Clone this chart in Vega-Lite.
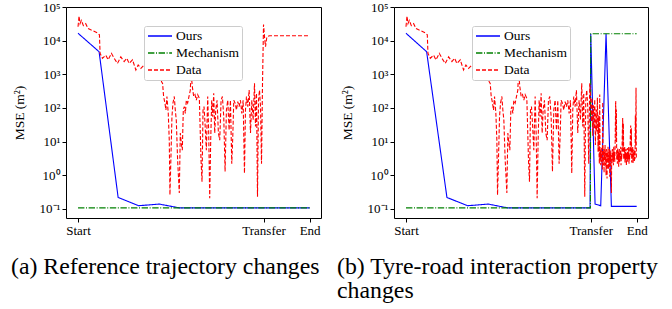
{
  "$schema": "https://vega.github.io/schema/vega-lite/v6.json",
  "padding": {"left": 10, "top": 0, "right": 2, "bottom": 2},
  "datasets": {
    "a": [
      {"x":0,"y":16600,"s":"Ours"},{"x":63,"y":4700,"s":"Ours"},{"x":120,"y":0.22,"s":"Ours"},{"x":181,"y":0.125,"s":"Ours"},{"x":243,"y":0.14,"s":"Ours"},{"x":303,"y":0.108,"s":"Ours"},{"x":693,"y":0.108,"s":"Ours"},
      {"x":0,"y":0.108,"s":"Mechanism"},{"x":693,"y":0.108,"s":"Mechanism"},
      {"x":0,"y":26000,"s":"Data"},{"x":3,"y":54000,"s":"Data"},{"x":6,"y":32000,"s":"Data"},{"x":10,"y":40000,"s":"Data"},{"x":16,"y":28000,"s":"Data"},{"x":23,"y":32000,"s":"Data"},{"x":30,"y":23000,"s":"Data"},{"x":38,"y":21000,"s":"Data"},{"x":48,"y":19000,"s":"Data"},{"x":58,"y":17000,"s":"Data"},{"x":64,"y":15000,"s":"Data"},{"x":66,"y":4200,"s":"Data"},{"x":73,"y":3000,"s":"Data"},{"x":83,"y":3700,"s":"Data"},{"x":90,"y":2700,"s":"Data"},{"x":100,"y":4200,"s":"Data"},{"x":108,"y":3000,"s":"Data"},{"x":118,"y":2100,"s":"Data"},{"x":128,"y":3300,"s":"Data"},{"x":138,"y":2400,"s":"Data"},{"x":146,"y":3000,"s":"Data"},{"x":153,"y":2100,"s":"Data"},{"x":163,"y":2700,"s":"Data"},{"x":173,"y":1350,"s":"Data"},{"x":180,"y":1900,"s":"Data"},{"x":188,"y":1500,"s":"Data"},{"x":198,"y":1900,"s":"Data"},{"x":208,"y":1500,"s":"Data"},{"x":218,"y":1200,"s":"Data"},{"x":228,"y":1200,"s":"Data"},{"x":238,"y":1070,"s":"Data"},{"x":246,"y":850,"s":"Data"},{"x":250,"y":600,"s":"Data"},{"x":253,"y":540,"s":"Data"},{"x":256,"y":220,"s":"Data"},{"x":260,"y":140,"s":"Data"},{"x":263,"y":87,"s":"Data"},{"x":266,"y":220,"s":"Data"},{"x":270,"y":69,"s":"Data"},{"x":273,"y":11,"s":"Data"},{"x":275,"y":0.26,"s":"Data"},{"x":278,"y":3.5,"s":"Data"},{"x":281,"y":55,"s":"Data"},{"x":284,"y":140,"s":"Data"},{"x":288,"y":220,"s":"Data"},{"x":291,"y":87,"s":"Data"},{"x":294,"y":44,"s":"Data"},{"x":298,"y":2.8,"s":"Data"},{"x":303,"y":0.3,"s":"Data"},{"x":306,"y":18,"s":"Data"},{"x":309,"y":9,"s":"Data"},{"x":312,"y":5.6,"s":"Data"},{"x":315,"y":87,"s":"Data"},{"x":318,"y":110,"s":"Data"},{"x":321,"y":69,"s":"Data"},{"x":324,"y":170,"s":"Data"},{"x":328,"y":140,"s":"Data"},{"x":332,"y":220,"s":"Data"},{"x":336,"y":340,"s":"Data"},{"x":338,"y":1200,"s":"Data"},{"x":342,"y":430,"s":"Data"},{"x":346,"y":220,"s":"Data"},{"x":350,"y":250,"s":"Data"},{"x":354,"y":170,"s":"Data"},{"x":358,"y":250,"s":"Data"},{"x":363,"y":195,"s":"Data"},{"x":368,"y":2.8,"s":"Data"},{"x":371,"y":0.65,"s":"Data"},{"x":374,"y":87,"s":"Data"},{"x":377,"y":110,"s":"Data"},{"x":380,"y":35,"s":"Data"},{"x":384,"y":5.6,"s":"Data"},{"x":388,"y":220,"s":"Data"},{"x":391,"y":18,"s":"Data"},{"x":394,"y":0.21,"s":"Data"},{"x":397,"y":11,"s":"Data"},{"x":400,"y":170,"s":"Data"},{"x":403,"y":55,"s":"Data"},{"x":406,"y":275,"s":"Data"},{"x":409,"y":18,"s":"Data"},{"x":412,"y":87,"s":"Data"},{"x":416,"y":170,"s":"Data"},{"x":420,"y":18,"s":"Data"},{"x":424,"y":11,"s":"Data"},{"x":428,"y":170,"s":"Data"},{"x":432,"y":220,"s":"Data"},{"x":436,"y":55,"s":"Data"},{"x":440,"y":1.3,"s":"Data"},{"x":444,"y":87,"s":"Data"},{"x":448,"y":170,"s":"Data"},{"x":452,"y":22,"s":"Data"},{"x":456,"y":170,"s":"Data"},{"x":460,"y":2.2,"s":"Data"},{"x":463,"y":14,"s":"Data"},{"x":466,"y":170,"s":"Data"},{"x":470,"y":140,"s":"Data"},{"x":474,"y":87,"s":"Data"},{"x":478,"y":155,"s":"Data"},{"x":482,"y":110,"s":"Data"},{"x":486,"y":170,"s":"Data"},{"x":490,"y":69,"s":"Data"},{"x":494,"y":170,"s":"Data"},{"x":498,"y":1.15,"s":"Data"},{"x":501,"y":87,"s":"Data"},{"x":504,"y":220,"s":"Data"},{"x":508,"y":110,"s":"Data"},{"x":512,"y":340,"s":"Data"},{"x":516,"y":18,"s":"Data"},{"x":520,"y":170,"s":"Data"},{"x":524,"y":44,"s":"Data"},{"x":528,"y":540,"s":"Data"},{"x":531,"y":28,"s":"Data"},{"x":534,"y":275,"s":"Data"},{"x":537,"y":0.23,"s":"Data"},{"x":540,"y":170,"s":"Data"},{"x":543,"y":340,"s":"Data"},{"x":546,"y":110,"s":"Data"},{"x":549,"y":2.2,"s":"Data"},{"x":552,"y":540,"s":"Data"},{"x":555,"y":30000,"s":"Data"},{"x":558,"y":13000,"s":"Data"},{"x":561,"y":6600,"s":"Data"},{"x":565,"y":13000,"s":"Data"},{"x":573,"y":14000,"s":"Data"},{"x":693,"y":14000,"s":"Data"}
    ],
    "b": [
      {"x":0,"y":16600,"s":"Ours"},{"x":62,"y":4700,"s":"Ours"},{"x":123,"y":0.22,"s":"Ours"},{"x":185,"y":0.125,"s":"Ours"},{"x":247,"y":0.14,"s":"Ours"},{"x":305,"y":0.108,"s":"Ours"},{"x":553,"y":0.108,"s":"Ours"},{"x":555,"y":16000,"s":"Ours"},{"x":568,"y":0.14,"s":"Ours"},{"x":585,"y":0.125,"s":"Ours"},{"x":601,"y":16000,"s":"Ours"},{"x":617,"y":0.12,"s":"Ours"},{"x":693,"y":0.12,"s":"Ours"},
      {"x":0,"y":0.108,"s":"Mechanism"},{"x":554,"y":0.108,"s":"Mechanism"},{"x":555,"y":16000,"s":"Mechanism"},{"x":693,"y":16000,"s":"Mechanism"},
      {"x":0,"y":26000,"s":"Data"},{"x":3,"y":54000,"s":"Data"},{"x":6,"y":32000,"s":"Data"},{"x":10,"y":40000,"s":"Data"},{"x":16,"y":28000,"s":"Data"},{"x":23,"y":32000,"s":"Data"},{"x":30,"y":23000,"s":"Data"},{"x":38,"y":21000,"s":"Data"},{"x":48,"y":19000,"s":"Data"},{"x":58,"y":17000,"s":"Data"},{"x":64,"y":15000,"s":"Data"},{"x":66,"y":4200,"s":"Data"},{"x":73,"y":3000,"s":"Data"},{"x":83,"y":3700,"s":"Data"},{"x":90,"y":2700,"s":"Data"},{"x":100,"y":4200,"s":"Data"},{"x":108,"y":3000,"s":"Data"},{"x":118,"y":2100,"s":"Data"},{"x":128,"y":3300,"s":"Data"},{"x":138,"y":2400,"s":"Data"},{"x":146,"y":3000,"s":"Data"},{"x":153,"y":2100,"s":"Data"},{"x":163,"y":2700,"s":"Data"},{"x":173,"y":1350,"s":"Data"},{"x":180,"y":1900,"s":"Data"},{"x":188,"y":1500,"s":"Data"},{"x":198,"y":1900,"s":"Data"},{"x":208,"y":1500,"s":"Data"},{"x":218,"y":1200,"s":"Data"},{"x":228,"y":1200,"s":"Data"},{"x":238,"y":1070,"s":"Data"},{"x":246,"y":850,"s":"Data"},{"x":250,"y":600,"s":"Data"},{"x":253,"y":540,"s":"Data"},{"x":256,"y":220,"s":"Data"},{"x":260,"y":140,"s":"Data"},{"x":263,"y":87,"s":"Data"},{"x":266,"y":220,"s":"Data"},{"x":270,"y":69,"s":"Data"},{"x":273,"y":11,"s":"Data"},{"x":275,"y":0.26,"s":"Data"},{"x":278,"y":3.5,"s":"Data"},{"x":281,"y":55,"s":"Data"},{"x":284,"y":140,"s":"Data"},{"x":288,"y":220,"s":"Data"},{"x":291,"y":87,"s":"Data"},{"x":294,"y":44,"s":"Data"},{"x":298,"y":2.8,"s":"Data"},{"x":303,"y":0.3,"s":"Data"},{"x":306,"y":18,"s":"Data"},{"x":309,"y":9,"s":"Data"},{"x":312,"y":5.6,"s":"Data"},{"x":315,"y":87,"s":"Data"},{"x":318,"y":110,"s":"Data"},{"x":321,"y":69,"s":"Data"},{"x":324,"y":170,"s":"Data"},{"x":328,"y":140,"s":"Data"},{"x":332,"y":220,"s":"Data"},{"x":336,"y":340,"s":"Data"},{"x":338,"y":1200,"s":"Data"},{"x":342,"y":430,"s":"Data"},{"x":346,"y":220,"s":"Data"},{"x":350,"y":250,"s":"Data"},{"x":354,"y":170,"s":"Data"},{"x":358,"y":250,"s":"Data"},{"x":363,"y":195,"s":"Data"},{"x":368,"y":2.8,"s":"Data"},{"x":371,"y":0.65,"s":"Data"},{"x":374,"y":87,"s":"Data"},{"x":377,"y":110,"s":"Data"},{"x":380,"y":35,"s":"Data"},{"x":384,"y":5.6,"s":"Data"},{"x":388,"y":220,"s":"Data"},{"x":391,"y":18,"s":"Data"},{"x":394,"y":0.21,"s":"Data"},{"x":397,"y":11,"s":"Data"},{"x":400,"y":170,"s":"Data"},{"x":403,"y":55,"s":"Data"},{"x":406,"y":275,"s":"Data"},{"x":409,"y":18,"s":"Data"},{"x":412,"y":87,"s":"Data"},{"x":416,"y":170,"s":"Data"},{"x":420,"y":18,"s":"Data"},{"x":424,"y":11,"s":"Data"},{"x":428,"y":170,"s":"Data"},{"x":432,"y":220,"s":"Data"},{"x":436,"y":55,"s":"Data"},{"x":440,"y":1.3,"s":"Data"},{"x":444,"y":87,"s":"Data"},{"x":448,"y":170,"s":"Data"},{"x":452,"y":22,"s":"Data"},{"x":456,"y":170,"s":"Data"},{"x":460,"y":2.2,"s":"Data"},{"x":463,"y":14,"s":"Data"},{"x":466,"y":170,"s":"Data"},{"x":470,"y":140,"s":"Data"},{"x":474,"y":87,"s":"Data"},{"x":478,"y":155,"s":"Data"},{"x":482,"y":110,"s":"Data"},{"x":486,"y":170,"s":"Data"},{"x":490,"y":69,"s":"Data"},{"x":494,"y":170,"s":"Data"},{"x":498,"y":1.15,"s":"Data"},{"x":501,"y":87,"s":"Data"},{"x":504,"y":220,"s":"Data"},{"x":508,"y":110,"s":"Data"},{"x":512,"y":340,"s":"Data"},{"x":516,"y":18,"s":"Data"},{"x":520,"y":170,"s":"Data"},{"x":524,"y":44,"s":"Data"},{"x":528,"y":540,"s":"Data"},{"x":531,"y":28,"s":"Data"},{"x":534,"y":275,"s":"Data"},{"x":537,"y":0.23,"s":"Data"},{"x":540,"y":170,"s":"Data"},{"x":543,"y":340,"s":"Data"},{"x":546,"y":110,"s":"Data"},{"x":549,"y":2.2,"s":"Data"},{"x":552,"y":540,"s":"Data"},
      {"x":555,"y":170,"s":"Data"},{"x":557,"y":40,"s":"Data"},{"x":559,"y":200,"s":"Data"},{"x":561,"y":15,"s":"Data"},{"x":563,"y":120,"s":"Data"},{"x":565,"y":25,"s":"Data"},{"x":567,"y":180,"s":"Data"},{"x":569,"y":8,"s":"Data"},{"x":571,"y":90,"s":"Data"},{"x":573,"y":20,"s":"Data"},{"x":575,"y":200,"s":"Data"},{"x":577,"y":5,"s":"Data"},{"x":579,"y":60,"s":"Data"},
      {"x":580,"y":4,"s":"Data"},{"x":581,"y":2.2,"s":"Data"},{"x":582,"y":250,"s":"Data"},{"x":583,"y":3,"s":"Data"},{"x":584,"y":6,"s":"Data"},{"x":585,"y":2,"s":"Data"},{"x":586,"y":5,"s":"Data"},{"x":587,"y":2.5,"s":"Data"},{"x":588,"y":7,"s":"Data"},{"x":589,"y":3,"s":"Data"},{"x":590,"y":1.5,"s":"Data"},{"x":591,"y":150,"s":"Data"},{"x":592,"y":4,"s":"Data"},{"x":593,"y":2,"s":"Data"},{"x":594,"y":6,"s":"Data"},{"x":595,"y":1.2,"s":"Data"},{"x":596,"y":5,"s":"Data"},{"x":597,"y":3,"s":"Data"},{"x":598,"y":8,"s":"Data"},{"x":599,"y":2,"s":"Data"},{"x":600,"y":4.5,"s":"Data"},{"x":601,"y":1,"s":"Data"},{"x":602,"y":6,"s":"Data"},{"x":603,"y":2.5,"s":"Data"},{"x":604,"y":0.8,"s":"Data"},{"x":605,"y":5,"s":"Data"},{"x":606,"y":3,"s":"Data"},{"x":607,"y":7,"s":"Data"},{"x":608,"y":1.5,"s":"Data"},{"x":609,"y":4,"s":"Data"},{"x":610,"y":2,"s":"Data"},{"x":611,"y":6,"s":"Data"},{"x":612,"y":0.9,"s":"Data"},{"x":613,"y":4,"s":"Data"},{"x":614,"y":2.5,"s":"Data"},{"x":615,"y":5.5,"s":"Data"},{"x":616,"y":1.8,"s":"Data"},{"x":617,"y":0.3,"s":"Data"},{"x":618,"y":4,"s":"Data"},{"x":619,"y":2.2,"s":"Data"},{"x":620,"y":6,"s":"Data"},{"x":621,"y":3,"s":"Data"},{"x":622,"y":5,"s":"Data"},{"x":623,"y":2,"s":"Data"},{"x":624,"y":7,"s":"Data"},{"x":625,"y":3,"s":"Data"},{"x":626,"y":4.5,"s":"Data"},{"x":627,"y":2.5,"s":"Data"},{"x":628,"y":5.5,"s":"Data"},{"x":629,"y":30,"s":"Data"},{"x":630,"y":160,"s":"Data"},{"x":631,"y":10,"s":"Data"},{"x":632,"y":90,"s":"Data"},{"x":633,"y":3,"s":"Data"},{"x":634,"y":4.5,"s":"Data"},{"x":635,"y":2.2,"s":"Data"},{"x":636,"y":6.5,"s":"Data"},{"x":637,"y":3,"s":"Data"},{"x":638,"y":5,"s":"Data"},{"x":639,"y":1.8,"s":"Data"},{"x":640,"y":4,"s":"Data"},{"x":641,"y":6,"s":"Data"},{"x":642,"y":2.5,"s":"Data"},{"x":643,"y":5,"s":"Data"},{"x":644,"y":3.2,"s":"Data"},{"x":645,"y":7,"s":"Data"},{"x":646,"y":2,"s":"Data"},{"x":647,"y":4,"s":"Data"},{"x":648,"y":3,"s":"Data"},{"x":649,"y":6,"s":"Data"},{"x":650,"y":20,"s":"Data"},{"x":651,"y":50,"s":"Data"},{"x":652,"y":5,"s":"Data"},{"x":653,"y":35,"s":"Data"},{"x":654,"y":3,"s":"Data"},{"x":655,"y":4.5,"s":"Data"},{"x":656,"y":3,"s":"Data"},{"x":657,"y":7,"s":"Data"},{"x":658,"y":2.4,"s":"Data"},{"x":659,"y":5,"s":"Data"},{"x":660,"y":3,"s":"Data"},{"x":661,"y":6,"s":"Data"},{"x":662,"y":2,"s":"Data"},{"x":663,"y":4.5,"s":"Data"},{"x":664,"y":3.3,"s":"Data"},{"x":665,"y":6.5,"s":"Data"},{"x":666,"y":2.5,"s":"Data"},{"x":667,"y":5,"s":"Data"},{"x":668,"y":3,"s":"Data"},{"x":669,"y":7,"s":"Data"},{"x":670,"y":2.2,"s":"Data"},{"x":671,"y":4,"s":"Data"},{"x":672,"y":3,"s":"Data"},{"x":673,"y":6,"s":"Data"},{"x":674,"y":15,"s":"Data"},{"x":675,"y":30,"s":"Data"},{"x":676,"y":4,"s":"Data"},{"x":677,"y":25,"s":"Data"},{"x":678,"y":2.4,"s":"Data"},{"x":679,"y":4.5,"s":"Data"},{"x":680,"y":3,"s":"Data"},{"x":681,"y":7,"s":"Data"},{"x":682,"y":2.2,"s":"Data"},{"x":683,"y":5,"s":"Data"},{"x":684,"y":3,"s":"Data"},{"x":685,"y":6,"s":"Data"},{"x":686,"y":2.5,"s":"Data"},{"x":687,"y":4.5,"s":"Data"},{"x":688,"y":3,"s":"Data"},{"x":689,"y":60,"s":"Data"},{"x":690,"y":8,"s":"Data"},{"x":691,"y":400,"s":"Data"},{"x":692,"y":3,"s":"Data"}
    ]
  },
  "config": {
    "font": "Liberation Serif",
    "view": {"stroke": "#000", "strokeWidth": 1},
    "axis": {"grid": false, "domain": false, "tickColor": "#000", "tickSize": 4, "labelFont": "Liberation Serif", "labelFontSize": 13, "labelColor": "#000", "labelFlush": false, "labelOverlap": false, "titleFont": "Liberation Serif", "titleFontSize": 13.5, "titleFontWeight": "normal", "titleColor": "#000"},
    "axisY": {"titlePadding": 13},
    "legend": {"orient": "none", "legendX": 78, "legendY": 19, "fillColor": "#ffffff", "strokeColor": "#cccccc", "cornerRadius": 2, "padding": 3, "labelFont": "Liberation Serif", "labelFontSize": 13.5, "labelColor": "#000", "symbolType": "M-1,0H3", "symbolSize": 144, "symbolStrokeWidth": 1.3, "rowPadding": 3, "labelOffset": 15},
    "title": {"font": "Liberation Serif", "fontSize": 23.8, "fontWeight": "normal", "color": "#000", "orient": "bottom", "anchor": "start", "frame": "group", "offset": 18, "lineHeight": 24}
  },
  "spacing": 14,
  "resolve": {"scale": {"color": "independent", "strokeDash": "independent"}, "legend": {"color": "independent", "strokeDash": "independent"}},
  "hconcat": [
    {
      "data": {"name": "a"},
      "width": 255, "height": 211,
      "title": {"text": "(a) Reference trajectory changes", "dx": -55},
      "mark": {"type": "line", "strokeWidth": 1.1, "clip": true},
      "encoding": {
        "x": {"field": "x", "type": "quantitative", "scale": {"domain": [-36, 727], "nice": false, "zero": false}, "axis": {"title": null, "values": [0, 555, 693], "labelExpr": "datum.value == 0 ? 'Start' : datum.value == 555 ? 'Transfer' : 'End'"}},
        "y": {"field": "y", "type": "quantitative", "scale": {"type": "log", "domain": [0.054, 100000], "nice": false}, "axis": {"title": "MSE (m²)", "values": [0.1, 1, 10, 100, 1000, 10000, 100000], "labelExpr": "datum.value < 0.5 ? '10⁻¹' : datum.value < 5 ? '10⁰' : datum.value < 50 ? '10¹' : datum.value < 500 ? '10²' : datum.value < 5000 ? '10³' : datum.value < 50000 ? '10⁴' : '10⁵'"}},
        "color": {"field": "s", "type": "nominal", "scale": {"domain": ["Ours", "Mechanism", "Data"], "range": ["#0000ff", "#008000", "#ff0000"]}, "legend": {"title": null}},
        "strokeDash": {"field": "s", "type": "nominal", "scale": {"domain": ["Ours", "Mechanism", "Data"], "range": [[1, 0], [6.4, 1.6, 1, 1.6], [4, 2]]}, "legend": {"title": null}}
      }
    },
    {
      "data": {"name": "b"},
      "width": 254, "height": 211,
      "title": {"text": ["(b) Tyre-road interaction property", "changes"], "dx": -57},
      "mark": {"type": "line", "strokeWidth": 1.1, "clip": true},
      "encoding": {
        "x": {"field": "x", "type": "quantitative", "scale": {"domain": [-36, 727], "nice": false, "zero": false}, "axis": {"title": null, "values": [0, 555, 693], "labelExpr": "datum.value == 0 ? 'Start' : datum.value == 555 ? 'Transfer' : 'End'"}},
        "y": {"field": "y", "type": "quantitative", "scale": {"type": "log", "domain": [0.054, 100000], "nice": false}, "axis": {"title": "MSE (m²)", "values": [0.1, 1, 10, 100, 1000, 10000, 100000], "labelExpr": "datum.value < 0.5 ? '10⁻¹' : datum.value < 5 ? '10⁰' : datum.value < 50 ? '10¹' : datum.value < 500 ? '10²' : datum.value < 5000 ? '10³' : datum.value < 50000 ? '10⁴' : '10⁵'"}},
        "color": {"field": "s", "type": "nominal", "scale": {"domain": ["Ours", "Mechanism", "Data"], "range": ["#0000ff", "#008000", "#ff0000"]}, "legend": {"title": null}},
        "strokeDash": {"field": "s", "type": "nominal", "scale": {"domain": ["Ours", "Mechanism", "Data"], "range": [[1, 0], [6.4, 1.6, 1, 1.6], [4, 2]]}, "legend": {"title": null}}
      }
    }
  ]
}
